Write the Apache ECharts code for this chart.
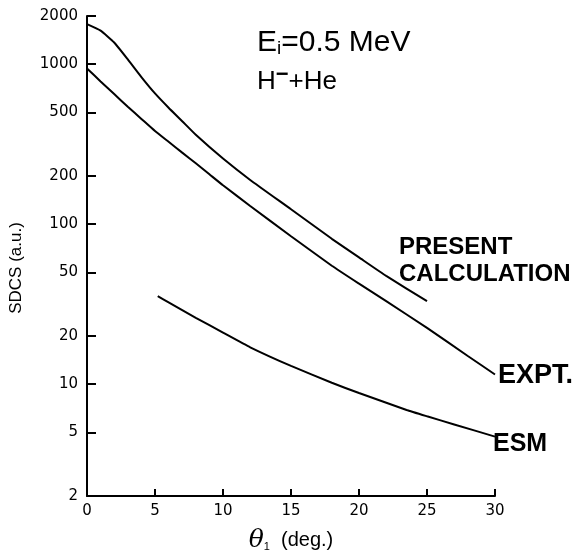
<!DOCTYPE html>
<html>
<head>
<meta charset="utf-8">
<script src="https://cdn.jsdelivr.net/npm/echarts@6/dist/echarts.min.js"></script>
<style>
  html, body { margin: 0; padding: 0; background: #fff; }
  #chart { width: 580px; height: 550px; }
</style>
</head>
<body>
<div id="chart"></div>
<script>
// SDCS vs theta, H- + He at 0.5 MeV

const presentX = [0, 1, 2, 3, 4, 5, 6, 7, 8, 10, 12, 15, 18, 20, 22, 25];
const presentY = [1780, 1620, 1365, 1070, 830, 656, 534, 440, 362, 257, 189, 124, 81, 62, 47.5, 33];

const exptX = [0, 1, 2, 3, 4, 5, 6, 7, 8, 9, 10, 12, 15, 18, 20, 22, 25, 28, 30];
const exptY = [940, 780, 650, 542, 455, 382, 327, 280, 240, 205, 175, 130, 84, 55, 42.5, 33, 22.5, 15, 11.5];

const esmX = [5.2, 6, 8, 10, 12, 15, 18, 20, 23.5, 25, 27, 30];
const esmY = [35.5, 32.5, 26, 21, 17, 13, 10.2, 8.8, 6.9, 6.3, 5.6, 4.7];

const xTicks = [0, 5, 10, 15, 20, 25, 30];
const yTicks = [2, 5, 10, 20, 50, 100, 200, 500, 1000, 2000];

function pairs(xs, ys) {
  return xs.map((x, i) => [x, ys[i]]);
}

const chart = echarts.init(document.getElementById("chart"));

const lineStyle = { color: "#000", width: 2 };

const option = {
  animation: false,
  backgroundColor: "#fff",
  title: {
    left: 252,
    top: 22,
    itemGap: 6,
    text: "E{sub|i}=0.5 MeV",
    subtext: "H{sup|−}+He",
    textStyle: {
      fontFamily: "Liberation Sans",
      fontSize: 30,
      fontWeight: "normal",
      color: "#000",
      rich: {
        sub: { fontSize: 19, verticalAlign: "bottom", padding: [12, 0, 0, 0], color: "#000" }
      }
    },
    subtextStyle: {
      fontFamily: "Liberation Sans",
      fontSize: 26,
      color: "#000",
      rich: {
        sup: { fontSize: 22, fontWeight: "bold", padding: [0, 0, 14, 0], color: "#000" }
      }
    }
  },
  grid: { left: 87, right: 85, top: 16, bottom: 54, outerBoundsMode: "none" },
  xAxis: {
    type: "value",
    min: 0,
    max: 30,
    interval: 5,
    name: "{t|θ}{s|1}  (deg.)",
    nameLocation: "middle",
    nameGap: 32,
    nameTextStyle: {
      fontFamily: "Liberation Sans",
      fontSize: 20,
      color: "#000",
      rich: {
        t: { fontFamily: "DejaVu Serif", fontStyle: "italic", fontSize: 25, color: "#000" },
        s: { fontSize: 11, padding: [12, 0, 0, 0], color: "#000" }
      }
    },
    axisLine: { lineStyle: { color: "#000", width: 2 } },
    axisTick: { inside: true, length: 7, lineStyle: { color: "#000", width: 2 } },
    axisLabel: {
      margin: 8,
      fontFamily: "DejaVu Sans",
      fontSize: 15,
      color: "#000",
      customValues: xTicks
    },
    splitLine: { show: false }
  },
  yAxis: {
    type: "log",
    logBase: 10,
    min: 2,
    max: 2000,
    name: "SDCS (a.u.)",
    nameLocation: "middle",
    nameGap: 62,
    nameTextStyle: {
      fontFamily: "Liberation Sans",
      fontSize: 17,
      color: "#000",
      padding: [0, 24, 0, 0]
    },
    axisLine: { show: true, lineStyle: { color: "#000", width: 2 } },
    axisTick: { inside: true, length: 9, lineStyle: { color: "#000", width: 2 }, customValues: yTicks },
    axisLabel: {
      margin: 9,
      fontFamily: "DejaVu Sans",
      fontSize: 15,
      color: "#000",
      customValues: yTicks,
      formatter: (v) => String(Math.round(v))
    },
    splitLine: { show: false },
    minorTick: { show: false }
  },
  series: [
    {
      name: "PRESENT CALCULATION",
      type: "line",
      data: pairs(presentX, presentY),
      showSymbol: false,
      smooth: 0.15,
      lineStyle: lineStyle,
      endLabel: {
        show: true,
        formatter: "PRESENT\nCALCULATION",
        distance: 0,
        offset: [-28, -40],
        align: "left",
        fontFamily: "Liberation Sans",
        fontSize: 24,
        fontWeight: "bold",
        lineHeight: 27,
        color: "#000"
      }
    },
    {
      name: "EXPT.",
      type: "line",
      data: pairs(exptX, exptY),
      showSymbol: false,
      smooth: 0.15,
      lineStyle: lineStyle,
      endLabel: {
        show: true,
        formatter: "EXPT.",
        distance: 3,
        offset: [0, 1],
        fontFamily: "Liberation Sans",
        fontSize: 27,
        fontWeight: "bold",
        color: "#000"
      }
    },
    {
      name: "ESM",
      type: "line",
      data: pairs(esmX, esmY),
      showSymbol: false,
      smooth: 0.15,
      lineStyle: lineStyle,
      endLabel: {
        show: true,
        formatter: "ESM",
        distance: 0,
        offset: [-2, 7],
        fontFamily: "Liberation Sans",
        fontSize: 25,
        fontWeight: "bold",
        color: "#000"
      }
    }
  ]
};

chart.setOption(option);
</script>
</body>
</html>
